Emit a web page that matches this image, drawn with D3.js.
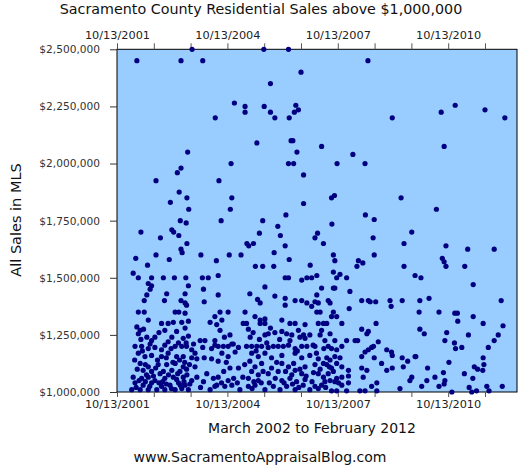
<!DOCTYPE html>
<html>
<head>
<meta charset="utf-8">
<script src="https://cdn.jsdelivr.net/npm/d3@7"></script>
<style>
  body { margin: 0; background: #fff; }
  text { font-family: "DejaVu Sans", sans-serif; }
</style>
</head>
<body>
<div id="chart"></div>
<script>
// Sales above $1M, [decimal year, price in $ thousands]
const sales2002 = [
  [2002.32,2450],[2002.84,1925],[2002.43,1700],[2002.96,1675],[2002.29,1585],[2002.84,1600],[2002.61,1555],
  [2002.22,1520],[2002.36,1500],[2002.72,1500],[2002.63,1475],[2002.72,1465],[2002.68,1450],[2002.59,1425],
  [2002.52,1400],[2002.36,1350],[2002.52,1350],[2002.63,1315],[2002.99,1300],[2002.32,1285],[2002.41,1270],
  [2002.36,1255],[2002.59,1240],[2002.72,1225],[2002.81,1240],[2002.27,1200],[2002.45,1200],[2002.63,1190],
  [2002.81,1195],[2002.99,1185],[2002.36,1170],[2002.54,1155],[2002.72,1160],[2002.99,1155],[2002.41,1125],
  [2002.63,1110],[2002.90,1120],[2002.49,1095],[2002.72,1090],[2002.22,1065],[2002.45,1060],[2002.63,1065],
  [2002.81,1050],[2002.27,1040],[2002.49,1030],[2002.72,1040],[2002.99,1025],[2002.18,1010],[2002.41,1010],
  [2002.63,1010],[2002.86,1010],[2002.30,1020],[2002.38,1050],[2002.55,1045],[2002.58,1075],[2002.67,1025],
  [2002.77,1070],[2002.92,1040],[2002.95,1080],[2002.33,1100],[2002.55,1120],[2002.83,1105],[2002.26,1140],
  [2002.47,1180],[2002.68,1210],[2002.88,1140],[2002.43,1230],[2002.92,1260],[2002.50,1275]
];
const sales2003 = [
  [2003.82,2500],[2003.52,2450],[2003.70,2050],[2003.52,1980],[2003.42,1960],[2003.47,1875],[2003.68,1850],
  [2003.23,1830],[2003.73,1800],[2003.27,1710],[2003.32,1700],[2003.46,1685],[2003.68,1650],[2003.50,1750],
  [2003.66,1740],[2003.52,1625],[2003.55,1610],[2003.20,1580],[2003.04,1500],[2003.34,1500],[2003.65,1500],
  [2003.72,1465],[2003.13,1430],[2003.63,1430],[2003.07,1400],[2003.52,1400],[2003.63,1390],[2003.67,1380],
  [2003.36,1350],[2003.46,1350],[2003.63,1345],[2003.17,1300],[2003.31,1305],[2003.54,1305],[2003.72,1310],
  [2003.08,1270],[2003.40,1265],[2003.63,1280],[2003.27,1240],[2003.17,1220],[2003.08,1205],[2003.58,1235],
  [2003.66,1215],[2003.36,1200],[2003.54,1200],[2003.67,1200],[2003.81,1185],[2003.90,1170],[2003.17,1170],
  [2003.40,1155],[2003.58,1155],[2003.81,1150],[2003.95,1145],[2003.13,1120],[2003.36,1125],[2003.58,1110],
  [2003.04,1090],[2003.27,1095],[2003.49,1090],[2003.67,1100],[2003.90,1110],[2003.08,1060],[2003.31,1065],
  [2003.58,1065],[2003.81,1050],[2003.22,1030],[2003.45,1040],[2003.63,1030],[2003.08,1010],[2003.36,1010],
  [2003.54,1015],[2003.72,1010],[2003.95,1065],[2003.02,1045],[2003.12,1035],[2003.18,1075],[2003.26,1015],
  [2003.40,1055],[2003.43,1080],[2003.50,1030],[2003.60,1045],[2003.68,1075],[2003.76,1035],[2003.30,1130],
  [2003.48,1140],[2003.62,1130],[2003.75,1120],[2003.12,1150],[2003.25,1190],[2003.45,1215],[2003.72,1245],
  [2003.86,1210]
];
const sales2004 = [
  [2004.11,2450],[2004.97,2265],[2004.45,2200],[2004.88,2000],[2004.55,1925],[2004.90,1850],[2004.86,1800],
  [2004.61,1750],[2004.06,1600],[2004.48,1575],[2004.83,1600],[2004.10,1500],[2004.26,1500],[2004.13,1450],
  [2004.15,1395],[2004.31,1305],[2004.04,1225],[2004.17,1225],[2004.44,1225],[2004.11,1195],[2004.35,1190],
  [2004.44,1205],[2004.15,1150],[2004.35,1145],[2004.13,1045],[2004.31,1010],[2004.44,1025],[2004.53,1510],
  [2004.53,1425],[2004.58,1350],[2004.80,1350],[2004.44,1330],[2004.63,1315],[2004.49,1295],[2004.58,1270],
  [2004.85,1250],[2004.53,1200],[2004.67,1200],[2004.80,1200],[2004.94,1210],[2004.63,1170],[2004.80,1155],
  [2004.99,1175],[2004.53,1135],[2004.49,1030],[2004.71,1025],[2004.90,1030],[2004.85,1105],[2004.80,1050],
  [2004.53,1065],[2004.05,1020],[2004.22,1080],[2004.40,1060],[2004.62,1040],[2004.68,1090],[2004.95,1060],
  [2004.75,1130],[2004.90,1210],[2004.70,1240]
];
const sales2005 = [
  [2005.77,2500],[2005.95,2350],[2005.26,2250],[2005.78,2250],[2005.26,2225],[2005.95,2225],[2005.58,2090],
  [2005.74,1750],[2005.65,1695],[2005.31,1650],[2005.49,1650],[2005.36,1640],[2005.15,1600],[2005.54,1550],
  [2005.74,1550],[2005.80,1460],[2005.39,1430],[2005.60,1405],[2005.67,1390],[2005.26,1350],[2005.53,1330],
  [2005.67,1315],[2005.80,1320],[2005.67,1300],[2005.80,1300],[2005.21,1300],[2005.30,1300],[2005.35,1275],
  [2005.48,1260],[2005.80,1250],[2005.89,1255],[2005.08,1195],[2005.30,1200],[2005.44,1200],[2005.58,1200],
  [2005.71,1200],[2005.89,1195],[2005.44,1170],[2005.62,1155],[2005.80,1170],[2005.98,1150],[2005.08,1105],
  [2005.39,1135],[2005.53,1110],[2005.71,1125],[2005.98,1105],[2005.44,1090],[2005.62,1075],[2005.89,1080],
  [2005.35,1060],[2005.62,1050],[2005.12,1010],[2005.35,1025],[2005.53,1030],[2005.80,1010],[2005.05,1040],
  [2005.20,1065],[2005.25,1120],[2005.45,1015],[2005.50,1045],[2005.70,1040],[2005.75,1090],[2005.92,1040],
  [2005.56,1180],[2005.85,1215],[2005.40,1240],[2005.65,1230],[2005.95,1280]
];
const sales2006 = [
  [2006.44,2500],[2006.78,2400],[2006.64,2255],[2006.60,2225],[2006.71,2235],[2006.07,2200],[2006.46,2200],
  [2006.51,2100],[2006.56,2100],[2006.67,2050],[2006.44,2000],[2006.58,2000],[2006.85,1950],[2006.85,1825],
  [2006.37,1775],[2006.15,1725],[2006.22,1685],[2006.35,1640],[2006.05,1610],[2006.46,1580],[2006.04,1550],
  [2006.35,1500],[2006.44,1500],[2006.80,1490],[2006.94,1500],[2006.07,1420],[2006.35,1410],[2006.35,1380],
  [2006.62,1400],[2006.80,1400],[2006.94,1390],[2006.26,1315],[2006.48,1300],[2006.62,1300],[2006.89,1295],
  [2006.07,1260],[2006.26,1265],[2006.39,1255],[2006.53,1250],[2006.71,1270],[2006.75,1240],[2006.89,1235],
  [2006.03,1200],[2006.16,1200],[2006.30,1200],[2006.44,1205],[2006.62,1190],[2006.80,1200],[2006.94,1200],
  [2006.26,1160],[2006.62,1170],[2006.80,1150],[2006.26,1125],[2006.44,1110],[2006.62,1095],[2006.89,1110],
  [2006.16,1090],[2006.53,1075],[2006.80,1080],[2006.26,1050],[2006.48,1060],[2006.66,1045],[2006.89,1055],
  [2006.03,1025],[2006.21,1010],[2006.39,1025],[2006.62,1010],[2006.84,1030],[2006.08,1060],[2006.12,1130],
  [2006.32,1040],[2006.36,1090],[2006.55,1035],[2006.58,1125],[2006.72,1020],[2006.75,1100],[2006.92,1070],
  [2006.20,1230],[2006.48,1225],[2006.68,1180],[2006.85,1250]
];
const sales2007 = [
  [2007.34,2075],[2007.76,2000],[2007.61,1850],[2007.69,1860],[2007.23,1695],[2007.16,1675],[2007.03,1555],
  [2007.62,1735],[2007.39,1650],[2007.66,1600],[2007.70,1575],[2007.07,1500],[2007.07,1375],[2007.16,1395],
  [2007.02,1250],[2007.11,1205],[2007.02,1160],[2007.16,1120],[2007.02,1010],[2007.16,1025],[2007.66,1525],
  [2007.75,1500],[2007.84,1515],[2007.21,1510],[2007.34,1455],[2007.66,1455],[2007.70,1455],[2007.21,1425],
  [2007.52,1400],[2007.57,1390],[2007.25,1390],[2007.21,1350],[2007.30,1350],[2007.66,1350],[2007.61,1330],
  [2007.75,1330],[2007.25,1300],[2007.39,1300],[2007.48,1300],[2007.89,1300],[2007.34,1270],[2007.30,1250],
  [2007.57,1255],[2007.43,1225],[2007.70,1225],[2007.16,1200],[2007.52,1200],[2007.61,1190],[2007.75,1185],
  [2007.89,1200],[2007.25,1145],[2007.48,1150],[2007.57,1140],[2007.70,1155],[2007.84,1150],[2007.39,1125],
  [2007.48,1120],[2007.61,1105],[2007.75,1125],[2007.89,1110],[2007.25,1080],[2007.39,1065],[2007.52,1080],
  [2007.66,1090],[2007.75,1060],[2007.89,1065],[2007.43,1045],[2007.57,1050],[2007.70,1045],[2007.89,1030],
  [2007.25,1015],[2007.34,1030],[2007.61,1005],[2007.75,1005],[2007.08,1045],[2007.12,1085],[2007.30,1100],
  [2007.45,1020],[2007.55,1110],[2007.80,1040],[2007.20,1170],[2007.40,1190]
];
const sales2008 = [
  [2008.60,2450],[2008.19,2040],[2008.52,2000],[2008.53,1775],[2008.77,1755],[2008.74,1675],[2008.77,1600],
  [2008.34,1575],[2008.46,1565],[2008.30,1550],[2008.02,1500],[2008.11,1440],[2008.43,1400],[2008.61,1400],
  [2008.66,1395],[2008.81,1395],[2008.09,1365],[2008.82,1300],[2008.43,1275],[2008.57,1255],[2008.61,1265],
  [2008.02,1225],[2008.25,1225],[2008.32,1225],[2008.52,1175],[2008.61,1185],[2008.70,1195],[2008.75,1200],
  [2008.88,1220],[2008.43,1155],[2008.77,1150],[2008.07,1095],[2008.43,1105],[2008.57,1095],[2008.97,1125],
  [2008.07,1070],[2008.47,1065],[2008.07,1040],[2008.02,1005],[2008.38,1005],[2008.52,1005],[2008.70,1025],
  [2008.84,1040],[2008.84,1005]
];
const sales2009 = [
  [2009.26,2200],[2009.50,1850],[2009.79,1700],[2009.58,1650],[2009.58,1550],[2009.20,1400],[2009.23,1375],
  [2009.53,1400],[2009.11,1185],[2009.24,1175],[2009.26,1160],[2009.53,1150],[2009.68,1135],[2009.88,1155],
  [2009.11,1095],[2009.26,1105],[2009.56,1110],[2009.79,1065],[2009.74,1050],[2009.47,1015],[2009.88,1510],
  [2009.99,1350],[2009.90,1155]
];
const sales2010 = [
  [2010.97,2255],[2010.59,2225],[2010.67,2075],[2010.46,1800],[2010.72,1640],[2010.62,1585],[2010.67,1570],
  [2010.72,1550],[2010.04,1500],[2010.26,1410],[2010.01,1400],[2010.53,1350],[2010.96,1345],[2010.01,1275],
  [2010.13,1255],[2010.74,1260],[2010.69,1225],[2010.95,1215],[2010.98,1190],[2010.80,1130],[2010.22,1105],
  [2010.65,1085],[2010.42,1065],[2010.20,1050],[2010.69,1050],[2010.67,1035],[2010.53,1025],[2010.06,1025],
  [2010.88,1000]
];
const sales2011 = [
  [2011.78,2235],[2011.31,1625],[2011.23,1550],[2011.46,1470],[2011.03,1345],[2011.04,1310],[2011.46,1330],
  [2011.73,1300],[2011.33,1250],[2011.15,1195],[2011.87,1195],[2011.73,1150],[2011.75,1120],[2011.49,1110],
  [2011.58,1100],[2011.72,1095],[2011.22,1080],[2011.45,1060],[2011.35,1020],[2011.42,1000],[2011.55,1005],
  [2011.83,1025],[2011.89,1005]
];
const sales2012 = [
  [2012.32,2200],[2012.03,1625],[2012.22,1400],[2012.27,1290],[2012.14,1250],[2012.03,1225],[2012.25,1025]
];

// Axes: yearly ticks from 10/13/2001, labelled every third year
const dateTicks = [2001.78, 2002.78, 2003.78, 2004.78, 2005.78, 2006.78, 2007.78, 2008.78, 2009.78, 2010.78, 2011.78];
const dateTickLabels = ["10/13/2001", "", "", "10/13/2004", "", "", "10/13/2007", "", "", "10/13/2010", ""];
const priceTicks = [1000000, 1250000, 1500000, 1750000, 2000000, 2250000, 2500000];

function drawSalesChart(containerSelector) {
  const totalWidth = 530, totalHeight = 465;
  const margin = { top: 49.3, right: 13, bottom: 73, left: 117 };
  const width = totalWidth - margin.left - margin.right;
  const height = totalHeight - margin.top - margin.bottom;

  const svg = d3.select(containerSelector)
    .append("svg")
    .attr("width", totalWidth)
    .attr("height", totalHeight);

  svg.append("rect")
    .attr("width", totalWidth)
    .attr("height", totalHeight)
    .attr("fill", "#fff");

  const g = svg.append("g")
    .attr("transform", `translate(${margin.left},${margin.top})`);

  const sales = [].concat(sales2002, sales2003, sales2004, sales2005, sales2006,
    sales2007, sales2008, sales2009, sales2010, sales2011, sales2012);

  const xScale = d3.scaleLinear().domain([2001.78, 2012.65]).range([0, width]);
  const yScale = d3.scaleLinear().domain([1000000, 2500000]).range([height, 0]);

  // Plot background
  g.append("rect")
    .attr("width", width)
    .attr("height", height)
    .attr("fill", "#99ccff")
    .attr("stroke", "#000")
    .attr("stroke-width", 1);

  const labelFor = d => dateTickLabels[dateTicks.indexOf(d)];

  // Top date axis
  const topAxis = g.append("g")
    .call(d3.axisTop(xScale).tickValues(dateTicks).tickFormat(labelFor)
      .tickSize(6).tickSizeOuter(0).tickPadding(4));

  // Bottom date axis
  const bottomAxis = g.append("g")
    .attr("transform", `translate(0,${height})`)
    .call(d3.axisBottom(xScale).tickValues(dateTicks).tickFormat(labelFor)
      .tickSize(5).tickSizeOuter(0).tickPadding(2.5));

  // Price axis
  const leftAxis = g.append("g")
    .call(d3.axisLeft(yScale).tickValues(priceTicks).tickFormat(d3.format("$,"))
      .tickSize(7).tickSizeOuter(0).tickPadding(10));

  [topAxis, bottomAxis].forEach(a => {
    a.select(".domain").remove();
    a.attr("font-family", "DejaVu Sans, sans-serif").attr("font-size", 11.3);
    a.selectAll("line").attr("stroke", "#555");
    a.selectAll("text").attr("fill", "#222");
  });
  leftAxis.select(".domain").remove();
  leftAxis.attr("font-family", "DejaVu Sans, sans-serif").attr("font-size", 10.6);
  leftAxis.selectAll("line").attr("stroke", "#333");
  leftAxis.selectAll("text").attr("fill", "#333");

  // Dots
  g.append("g")
    .selectAll("circle")
    .data(sales)
    .enter()
    .append("circle")
      .attr("cx", d => xScale(d[0]))
      .attr("cy", d => yScale(d[1] * 1000))
      .attr("r", 2.6)
      .attr("fill", "#000080");

  // Title
  svg.append("text")
    .attr("x", 261)
    .attr("y", 14)
    .attr("text-anchor", "middle")
    .attr("font-size", 14.3)
    .attr("fill", "#111")
    .text("Sacramento County Residential Sales above $1,000,000");

  // X axis label
  svg.append("text")
    .attr("x", 312)
    .attr("y", 432.7)
    .attr("text-anchor", "middle")
    .attr("font-size", 14)
    .attr("fill", "#111")
    .text("March 2002 to February 2012");

  // Y axis label
  svg.append("text")
    .attr("transform", "rotate(-90)")
    .attr("x", -220)
    .attr("y", 20.5)
    .attr("text-anchor", "middle")
    .attr("font-size", 14.5)
    .attr("fill", "#111")
    .text("All Sales in MLS");

  // Footer
  svg.append("text")
    .attr("x", 260)
    .attr("y", 461.5)
    .attr("text-anchor", "middle")
    .attr("font-size", 14)
    .attr("fill", "#111")
    .text("www.SacramentoAppraisalBlog.com");
}

drawSalesChart("#chart");
</script>
</body>
</html>
